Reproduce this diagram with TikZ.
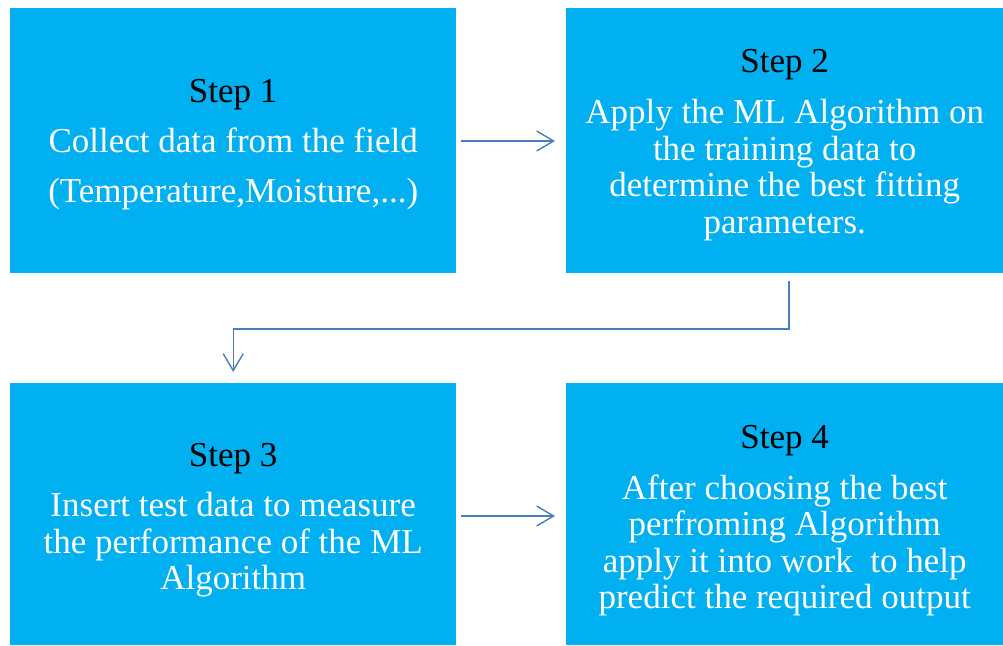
\documentclass[tikz,border=0pt]{standalone}
\usepackage{fontspec}
\setmainfont{Liberation Serif}
\usetikzlibrary{arrows.meta,calc}
\definecolor{boxcyan}{HTML}{00B0F0}
\definecolor{linkblue}{HTML}{4A7EBB}
\tikzset{
  stepbox/.style={fill=boxcyan, draw=none, inner sep=0pt, anchor=north west,
    text=white, align=center,
    font=\fontsize{35}{36.5}\selectfont},
  conn/.style={draw=linkblue, line width=1.4pt,
    -{Straight Barb[length=17pt,width=20pt,line width=1.4pt]}},
}
\newcommand{\steplabel}[2]{\rule{0pt}{#1}\textcolor{black}{#2}}
\begin{document}
\begin{tikzpicture}[x=1pt,y=-1pt]
\useasboundingbox (0,0) rectangle (1003,645);
\node[stepbox, minimum width=446pt, minimum height=265pt] (b1) at (10,8)
  {\steplabel{31pt}{Step 1}\\[14pt] Collect data from the field\\[13.5pt] (Temperature,Moisture,...)};
\node[stepbox, minimum width=437pt, minimum height=265pt] (b2) at (566,8)
  {\steplabel{32pt}{Step 2}\\[15pt] Apply the ML Algorithm on\\ the training data to\\ determine the best fitting\\ parameters.};
\node[stepbox, minimum width=446pt, minimum height=262pt] (b3) at (10,383)
  {\steplabel{36pt}{Step 3}\\[13.5pt] Insert test data to measure\\ the performance of the ML\\ Algorithm};
\node[stepbox, minimum width=437pt, minimum height=262pt] (b4) at (566,383)
  {\steplabel{36pt}{Step 4}\\[14.5pt] After choosing the best\\ perfroming Algorithm\\ apply it into work\ \ to help\\ predict the required output};
\coordinate (turn) at (789,329);
\draw[conn, shorten <=5pt, shorten >=11pt] (b1.east |- 0,141) -- (b2.west |- 0,141);
\draw[conn, shorten <=5pt, shorten >=11pt] (b3.east |- 0,516) -- (b4.west |- 0,516);
\draw[conn, shorten <=8pt, shorten >=11pt] (b2.south -| turn) -- (turn) -| (b3.north);
\end{tikzpicture}
\end{document}
